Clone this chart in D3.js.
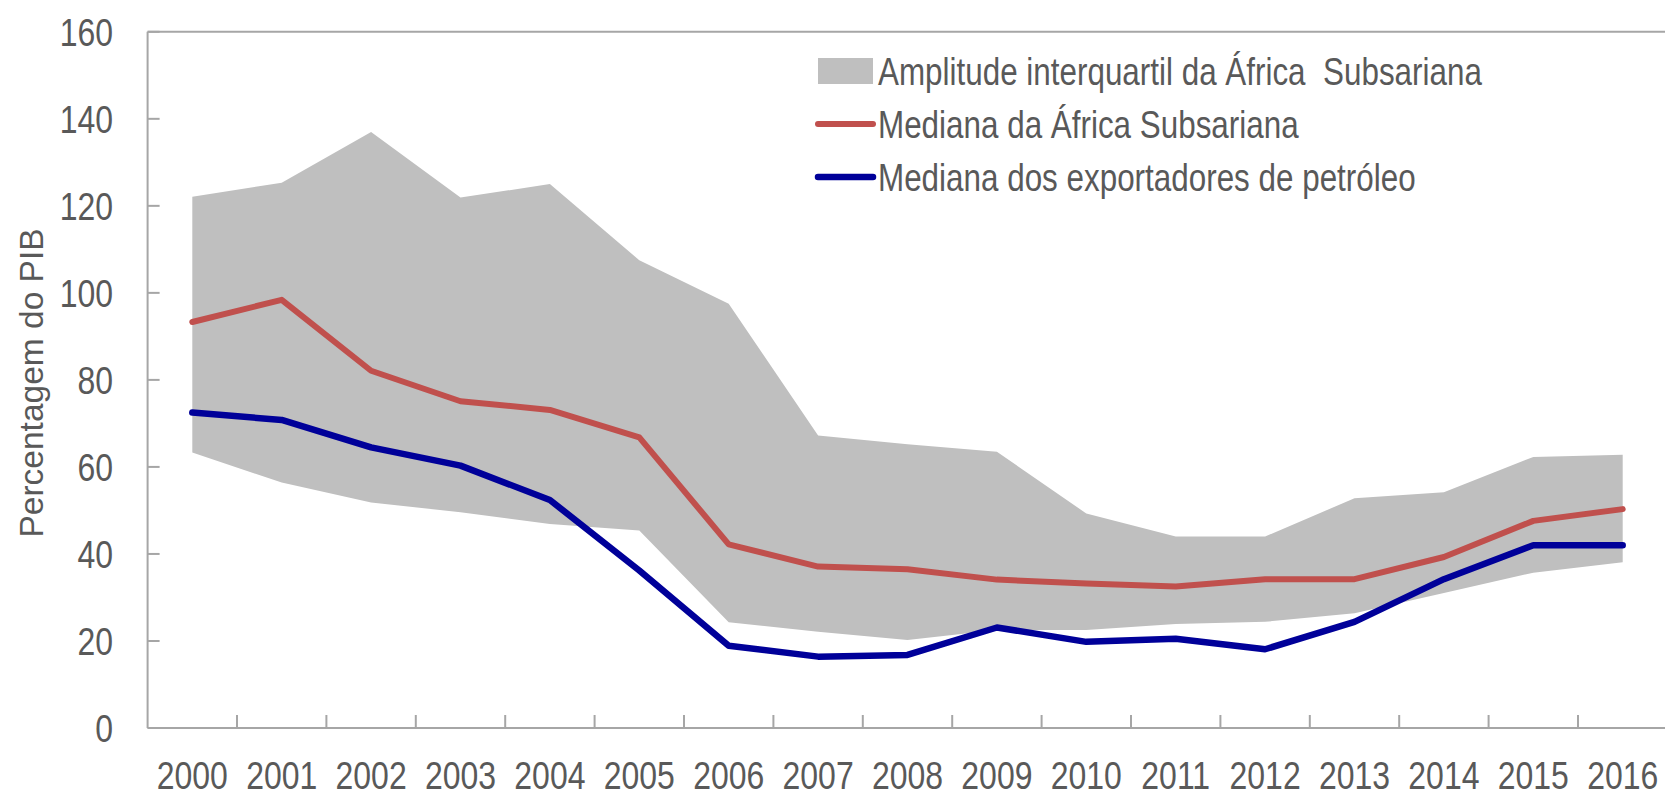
<!DOCTYPE html>
<html>
<head>
<meta charset="utf-8">
<script src="https://cdn.jsdelivr.net/npm/d3@7"></script>
<style>
  html, body { margin: 0; padding: 0; background: #fff; }
  svg { display: block; }
</style>
</head>
<body>
<svg id="chart" width="1665" height="797"></svg>
<script>
const years = ["2000","2001","2002","2003","2004","2005","2006","2007","2008","2009","2010","2011","2012","2013","2014","2015","2016"];
const iqrUpper = [122.1,125.3,137,121.9,125,107.5,97.5,67.2,65.2,63.5,49.3,44,44,52.8,54.2,62.3,62.8];
const iqrLower = [63.3,56.4,51.8,49.6,46.9,45.4,24.3,22.1,20.2,22.5,22.5,23.9,24.4,26.4,31,35.7,38.1];
const medianSSA = [93.3,98.4,82.1,75.1,73.1,66.8,42.2,37.1,36.5,34.1,33.2,32.5,34.2,34.2,39.3,47.6,50.3];
const medianOil = [72.5,70.8,64.5,60.3,52.4,36.2,18.9,16.4,16.8,23.1,19.8,20.5,18.1,24.4,34.2,42,42];
const yTicks = [0,20,40,60,80,100,120,140,160];
const legendLabels = ["Amplitude interquartil da África  Subsariana","Mediana da África Subsariana","Mediana dos exportadores de petróleo"];
const yTitle = "Percentagem do PIB";

const textColor = "#595959";
const axisColor = "#a6a6a6";
const bandColor = "#bfbfbf";
const redColor = "#c0504d";
const blueColor = "#000099";
const sans = "'Liberation Sans',Arial,sans-serif";
const squeeze = 0.82;

const svg = d3.select("#chart");
const left = 147.6, bw = 89.4;
const x = d3.scaleBand().domain(years).range([left, left + bw * years.length]).padding(0);
const y = d3.scaleLinear().domain([0,160]).range([728, 31.8]);
const cx = d => x(d) + x.bandwidth() / 2;

const rows = years.map((yr, i) => ({yr, lo: iqrLower[i], hi: iqrUpper[i], m: medianSSA[i], o: medianOil[i]}));
svg.append("path").datum(rows)
  .attr("fill", bandColor)
  .attr("d", d3.area().x(d => cx(d.yr)).y0(d => y(d.lo)).y1(d => y(d.hi)));

svg.append("path").datum(rows)
  .attr("fill", "none").attr("stroke", redColor).attr("stroke-width", 6)
  .attr("stroke-linejoin", "round").attr("stroke-linecap", "round")
  .attr("d", d3.line().x(d => cx(d.yr)).y(d => y(d.m)));
svg.append("path").datum(rows)
  .attr("fill", "none").attr("stroke", blueColor).attr("stroke-width", 6.5)
  .attr("stroke-linejoin", "round").attr("stroke-linecap", "round")
  .attr("d", d3.line().x(d => cx(d.yr)).y(d => y(d.o)));

svg.append("line").attr("x1", left).attr("x2", 1665).attr("y1", y(160)).attr("y2", y(160))
  .attr("stroke", axisColor).attr("stroke-width", 2);

const yAxis = svg.append("g");
yAxis.append("line").attr("x1", left).attr("x2", left).attr("y1", y(160)).attr("y2", y(0))
  .attr("stroke", axisColor).attr("stroke-width", 2);
yAxis.selectAll("line.tick").data(yTicks).enter().append("line").attr("class","tick")
  .attr("x1", left).attr("x2", left + 12).attr("y1", d => y(d)).attr("y2", d => y(d))
  .attr("stroke", axisColor).attr("stroke-width", 2);
yAxis.selectAll("text").data(yTicks).enter().append("text")
  .attr("transform", d => `translate(113,${y(d)}) scale(${squeeze},1)`)
  .attr("dy", "0.36em")
  .attr("text-anchor", "end").attr("fill", textColor)
  .style("font-family", sans).style("font-size", "39px")
  .text(d => d);

const xAxis = svg.append("g");
xAxis.append("line").attr("x1", left).attr("x2", 1665).attr("y1", y(0)).attr("y2", y(0))
  .attr("stroke", axisColor).attr("stroke-width", 2);
xAxis.selectAll("line.tick").data(years.slice(1)).enter().append("line").attr("class","tick")
  .attr("x1", d => x(d)).attr("x2", d => x(d)).attr("y1", y(0)).attr("y2", y(0) - 13)
  .attr("stroke", axisColor).attr("stroke-width", 2);
xAxis.selectAll("text").data(years).enter().append("text")
  .attr("transform", d => `translate(${cx(d)},789) scale(${squeeze},1)`)
  .attr("text-anchor", "middle").attr("fill", textColor)
  .style("font-family", sans).style("font-size", "39px")
  .text(d => d);

svg.append("text")
  .attr("transform", "translate(43,383) rotate(-90)")
  .attr("text-anchor", "middle").attr("fill", textColor)
  .style("font-family", sans).style("font-size", "33.5px")
  .text(yTitle);

const lx = 818, lw = 55, tx = 878;
const rowsY = [71, 124, 177];
const lg = svg.append("g");
lg.append("rect").attr("x", lx).attr("y", rowsY[0] - 13).attr("width", lw).attr("height", 26).attr("fill", bandColor);
lg.append("line").attr("x1", lx).attr("x2", lx + lw).attr("y1", rowsY[1]).attr("y2", rowsY[1])
  .attr("stroke", redColor).attr("stroke-width", 6).attr("stroke-linecap", "round");
lg.append("line").attr("x1", lx).attr("x2", lx + lw).attr("y1", rowsY[2]).attr("y2", rowsY[2])
  .attr("stroke", blueColor).attr("stroke-width", 6.5).attr("stroke-linecap", "round");
lg.selectAll("text").data(legendLabels).enter().append("text")
  .attr("transform", (d, i) => `translate(${tx},${rowsY[i]}) scale(${squeeze},1)`)
  .attr("dy", "0.36em")
  .attr("fill", textColor)
  .style("font-family", sans).style("font-size", "38.3px")
  .style("white-space", "pre")
  .text(d => d);
</script>
</body>
</html>
